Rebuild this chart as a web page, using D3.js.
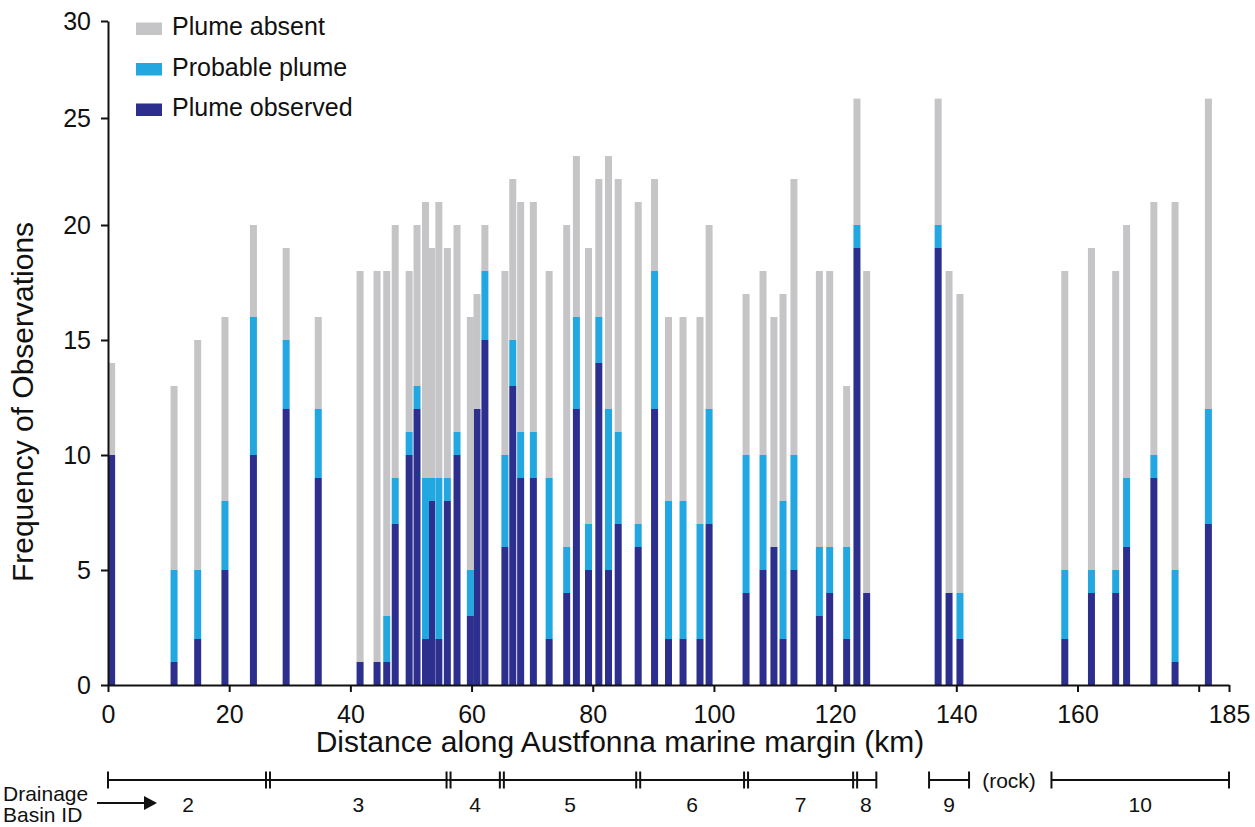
<!DOCTYPE html>
<html>
<head>
<meta charset="utf-8">
<script src="https://cdn.jsdelivr.net/npm/d3@7"></script>
<style>
  body { margin: 0; background: #fff; }
  svg { font-family: "Liberation Sans", Arial, sans-serif; }
  .axis path, .axis line { stroke: #111; stroke-width: 2; }
  .axis text { font-size: 25px; fill: #111; }
</style>
</head>
<body>
<div id="chart-container"></div>
<script>
/* Stacked bar chart: plume observations along the Austfonna marine margin */

// distance of each observation site along the margin (km)
const distance = [0.6, 10.9, 14.8, 19.3, 24.0, 29.4, 34.7, 41.6, 44.4, 46.0, 47.4, 49.7, 51.0, 52.4, 53.4,
  54.6, 56.0, 57.6, 59.8, 60.9, 62.2, 65.5, 66.8, 68.1, 70.2, 72.8, 75.7, 77.3, 79.3, 81.0, 82.6, 84.2,
  87.5, 90.2, 92.5, 94.9, 97.7, 99.2, 105.3, 108.1, 109.9, 111.4, 113.2, 117.4, 119.1, 121.9, 123.6,
  125.2, 137.0, 138.8, 140.6, 157.9, 162.3, 166.3, 168.1, 172.6, 176.1, 181.6];

const plumeObserved = [10, 1, 2, 5, 10, 12, 9, 1, 1, 1, 7, 10, 12, 2, 8, 2, 8, 10, 3, 12, 15, 6, 13, 9, 9,
  2, 4, 12, 5, 14, 5, 7, 6, 12, 2, 2, 2, 7, 4, 5, 6, 2, 5, 3, 4, 2, 19, 4, 19, 4, 2, 2, 4, 4, 6, 9, 1, 7];

const probablePlume = [0, 4, 3, 3, 6, 3, 3, 0, 0, 2, 2, 1, 1, 7, 1, 7, 1, 1, 2, 0, 3, 4, 2, 2, 2, 7, 2, 4,
  2, 2, 7, 4, 1, 6, 6, 6, 5, 5, 6, 5, 0, 6, 5, 3, 2, 4, 1, 0, 1, 0, 2, 3, 1, 1, 3, 1, 4, 5];

const plumeAbsent = [4, 8, 10, 8, 4, 4, 4, 17, 17, 15, 11, 7, 7, 12, 10, 12, 10, 9, 11, 5, 2, 8, 7, 10, 10,
  9, 14, 7, 12, 6, 11, 11, 14, 4, 8, 8, 9, 8, 7, 8, 10, 9, 12, 12, 12, 7, 6, 14, 6, 14, 13, 13, 14, 13, 11,
  11, 16, 14];

const seriesNames = ["Plume observed", "Probable plume", "Plume absent"];
const legendOrder = ["Plume absent", "Probable plume", "Plume observed"];

const xTicks = [0, 20, 40, 60, 80, 100, 120, 140, 160, 180, 185];
const yTicks = [0, 5, 10, 15, 20, 25, 30];

// drainage basins (km along the margin)
const basinIds = ["2", "3", "4", "5", "6", "7", "8", "9", "10"];
const basinStart = [0, 26.4, 56.2, 65.0, 87.5, 105.3, 123.3, 135.5, 155.7];
const basinEnd = [26.4, 56.2, 65.0, 87.5, 105.3, 123.3, 126.8, 142.1, 185];

function create_chart() {
  let width = 1255,
    height = 827,
    margin = { top: 21, right: 26, bottom: 142, left: 108 };

  const color = {
    "Plume absent": "#c5c5c7",
    "Probable plume": "#22a7e0",
    "Plume observed": "#2d2f8f",
  };

  const svg = d3
    .select("#chart-container")
    .append("svg")
    .attr("width", width)
    .attr("height", height);

  let x = d3
    .scaleLinear()
    .domain([0, 185])
    .range([margin.left, width - margin.right]);

  // the printed axis is squeezed above ~23, so the scale follows the printed ticks
  let y = d3
    .scaleLinear()
    .domain([0, 23, 25, 30])
    .range([height - margin.bottom, 156, 118, margin.top]);

  const table = distance.map((d, i) => ({
    km: d,
    "Plume observed": plumeObserved[i],
    "Probable plume": probablePlume[i],
    "Plume absent": plumeAbsent[i],
  }));

  const stacked = d3.stack().keys(seriesNames)(table);
  const barWidth = 7;

  svg
    .append("g")
    .selectAll("g")
    .data(stacked)
    .join("g")
    .attr("fill", (s) => color[s.key])
    .selectAll("rect")
    .data((s) => s)
    .join("rect")
    .attr("x", (d) => x(d.data.km) - barWidth / 2)
    .attr("width", barWidth)
    .attr("y", (d) => y(d[1]))
    .attr("height", (d) => y(d[0]) - y(d[1]));

  // axes
  svg
    .append("g")
    .attr("class", "axis")
    .attr("transform", `translate(0,${height - margin.bottom})`)
    .call(
      d3
        .axisBottom(x)
        .tickValues(xTicks)
        .tickSize(7)
        .tickSizeOuter(0)
        .tickPadding(13)
        .tickFormat((d) => (d === 180 ? "" : d))
    );

  svg
    .append("g")
    .attr("class", "axis")
    .attr("transform", `translate(${margin.left},0)`)
    .call(d3.axisLeft(y).tickValues(yTicks).tickSize(7).tickSizeOuter(0).tickPadding(10));

  svg
    .append("text")
    .attr("text-anchor", "middle")
    .attr("x", 620)
    .attr("y", 752)
    .attr("font-size", 30)
    .attr("fill", "#111")
    .text("Distance along Austfonna marine margin (km)");

  svg
    .append("text")
    .attr("text-anchor", "middle")
    .attr("transform", "translate(33,402) rotate(-90)")
    .attr("font-size", 30)
    .attr("fill", "#111")
    .text("Frequency of Observations");

  // legend
  const legend = svg
    .append("g")
    .selectAll("g")
    .data(legendOrder)
    .join("g")
    .attr("transform", (d, i) => `translate(136,${35 + i * 40.5})`);

  legend
    .append("rect")
    .attr("y", -12.5)
    .attr("width", 26)
    .attr("height", 12.5)
    .attr("fill", (d) => color[d]);

  legend
    .append("text")
    .attr("x", 36)
    .attr("font-size", 25)
    .attr("fill", "#111")
    .text((d) => d);

  // drainage basin scale bar
  const basinY = 780;
  const basins = svg.append("g").attr("stroke", "#111").attr("stroke-width", 2);

  basinIds.forEach((id, i) => {
    let x0 = x(basinStart[i]),
      x1 = x(basinEnd[i]);
    basins.append("line").attr("x1", x0).attr("x2", x1).attr("y1", basinY).attr("y2", basinY);

    // shared boundaries get a double tick
    let sharedLeft = i > 0 && basinEnd[i - 1] === basinStart[i];
    let sharedRight = i < basinIds.length - 1 && basinStart[i + 1] === basinEnd[i];
    [[x0, sharedLeft ? 2 : 0], [x1, sharedRight ? -2 : 0]].forEach(([px, off]) => {
      basins
        .append("line")
        .attr("x1", px + off)
        .attr("x2", px + off)
        .attr("y1", basinY - 8.5)
        .attr("y2", basinY + 8.5);
    });

    svg
      .append("text")
      .attr("text-anchor", "middle")
      .attr("x", (x0 + x1) / 2)
      .attr("y", 812)
      .attr("font-size", 21)
      .attr("fill", "#111")
      .text(id);
  });

  svg
    .append("text")
    .attr("text-anchor", "middle")
    .attr("x", x(148.7))
    .attr("y", 788)
    .attr("font-size", 21)
    .attr("fill", "#111")
    .text("(rock)");

  svg
    .append("text")
    .attr("x", 3)
    .attr("y", 801)
    .attr("font-size", 21)
    .attr("fill", "#111")
    .text("Drainage");

  svg
    .append("text")
    .attr("x", 3)
    .attr("y", 822)
    .attr("font-size", 21)
    .attr("fill", "#111")
    .text("Basin ID");

  // arrow
  svg
    .append("line")
    .attr("x1", 97)
    .attr("x2", 146)
    .attr("y1", 803)
    .attr("y2", 803)
    .attr("stroke", "#111")
    .attr("stroke-width", 2);

  svg
    .append("path")
    .attr("d", "M144,796 L157,803 L144,810 Z")
    .attr("fill", "#111");
}

create_chart();
</script>
</body>
</html>
